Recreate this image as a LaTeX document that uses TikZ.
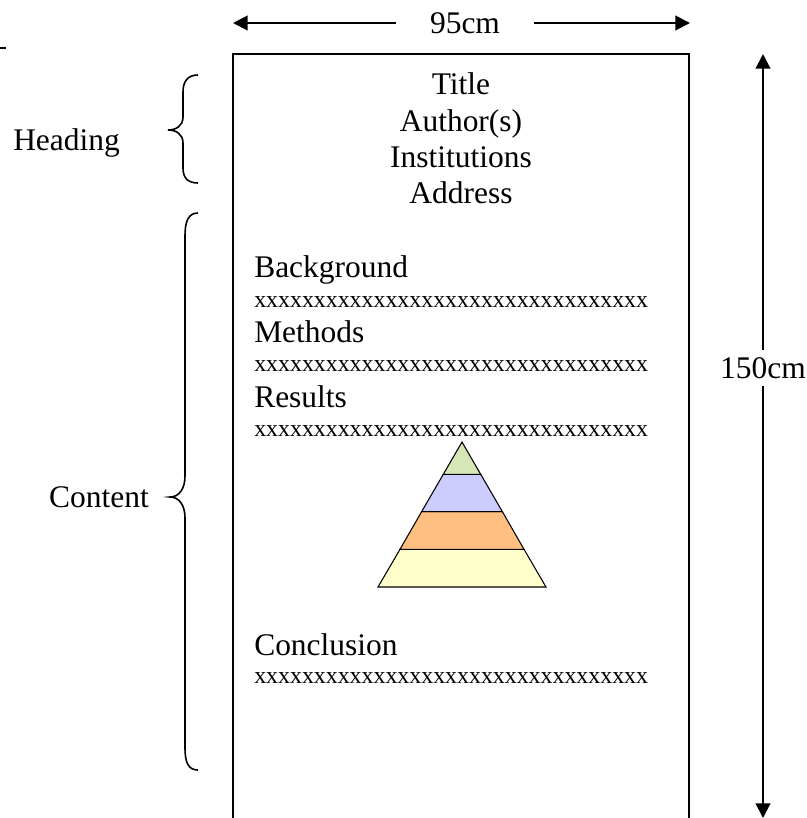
\documentclass[tikz,border=0pt]{standalone}
\usepackage{fontspec}
\setmainfont{Liberation Serif}
\usepackage{xcolor}
\usetikzlibrary{arrows.meta}
\definecolor{pyrgreen}{HTML}{D7E6B6}
\definecolor{pyrblue}{HTML}{CCCCFF}
\definecolor{pyrorange}{HTML}{FFBF80}
\definecolor{pyryellow}{HTML}{FFFFCC}
\tikzset{bigtext/.style={font=\fontsize{23.6}{28}\selectfont, inner sep=0pt},
 xtext/.style={font=\fontsize{17.9}{21}\selectfont, inner sep=0pt},
 dimarrow/.style={line width=1.5pt, -{Triangle[length=11pt,width=11pt]}},
 bracket/.style={line width=1.2pt},
 sheet/.style={line width=1.2pt},
 layer/.style={draw=black, line width=0.8pt},
 }

\begin{document}
\begin{tikzpicture}[x=0.75pt, y=-0.75pt]
        \clip (0,0) rectangle (807,818);
        \draw[line width=1pt] (0,48) -- (6,48);
        % poster sheet
        \draw[sheet] (233,825) -- (233,54) -- (689,54) -- (689,825);
        % width
        \node[bigtext, inner xsep=25.5pt] (wlabel) at (465,23) {95cm};
        \coordinate (wleft) at (233,23);
        \coordinate (wright) at (690,23);
        \draw[dimarrow] (wlabel.west) -- (wleft);
        \draw[dimarrow] (wlabel.east) -- (wright);
        % height
        \node[bigtext, inner ysep=5pt] (hlabel) at (763,368) {150cm};
        \coordinate (htop) at (763,54);
        \coordinate (hbottom) at (763,818);
        \draw[dimarrow] (hlabel.north) -- (htop);
        \draw[dimarrow] (hlabel.south) -- (hbottom);
        % heading
        \node[bigtext, anchor=base] (title) at (461,94) {Title};
        \node[bigtext, anchor=base] (authors) at (461,131.5) {Author(s)};
        \node[bigtext, anchor=base] (inst) at (461,167.5) {Institutions};
        \node[bigtext, anchor=base] (address) at (461,203.5) {Address};
        \node[bigtext, anchor=base west] (heading) at (13,150) {Heading};
        \draw[bracket] (198,75) .. controls (188,75) and (183,81) .. (183,92)
            -- (183,117) .. controls (183,126) and (176,130) .. (168,130)
            .. controls (176,130) and (183,134) .. (183,143)
            -- (183,168) .. controls (183,178) and (188,183) .. (198,183);
        % content
        \node[bigtext, anchor=base west] (bg) at (254,277) {Background};
        \node[xtext, anchor=base west] (bgx) at (254,307) {xxxxxxxxxxxxxxxxxxxxxxxxxxxxxxxxx};
        \node[bigtext, anchor=base west] (meth) at (254,342) {Methods};
        \node[xtext, anchor=base west] (methx) at (254,371) {xxxxxxxxxxxxxxxxxxxxxxxxxxxxxxxxx};
        \node[bigtext, anchor=base west] (res) at (254,407) {Results};
        \node[xtext, anchor=base west] (resx) at (254,436) {xxxxxxxxxxxxxxxxxxxxxxxxxxxxxxxxx};
        \node[bigtext, anchor=base west] (concl) at (254,655) {Conclusion};
        \node[xtext, anchor=base west] (conclx) at (254,683) {xxxxxxxxxxxxxxxxxxxxxxxxxxxxxxxxx};
        \node[bigtext, anchor=base] (content) at (99,507) {Content};
        \draw[bracket] (198,213) .. controls (188,213) and (185,222) .. (185,236)
            -- (185,476) .. controls (185,489) and (179,497) .. (170,497)
            .. controls (179,497) and (185,505) .. (185,518)
            -- (185,748) .. controls (185,762) and (188,770) .. (198,770);
        % pyramid
        \filldraw[layer, fill=pyryellow] (400,549.3) -- (524,549.3) -- (546,587) -- (378,587) -- cycle;
        \filldraw[layer, fill=pyrorange] (421.6,511.7) -- (502.4,511.7) -- (524,549.3) -- (400,549.3) -- cycle;
        \filldraw[layer, fill=pyrblue] (443.3,474.3) -- (480.7,474.3) -- (502.4,511.7) -- (421.6,511.7) -- cycle;
        \filldraw[layer, fill=pyrgreen] (462,442) -- (480.7,474.3) -- (443.3,474.3) -- cycle;
\end{tikzpicture}
\end{document}
